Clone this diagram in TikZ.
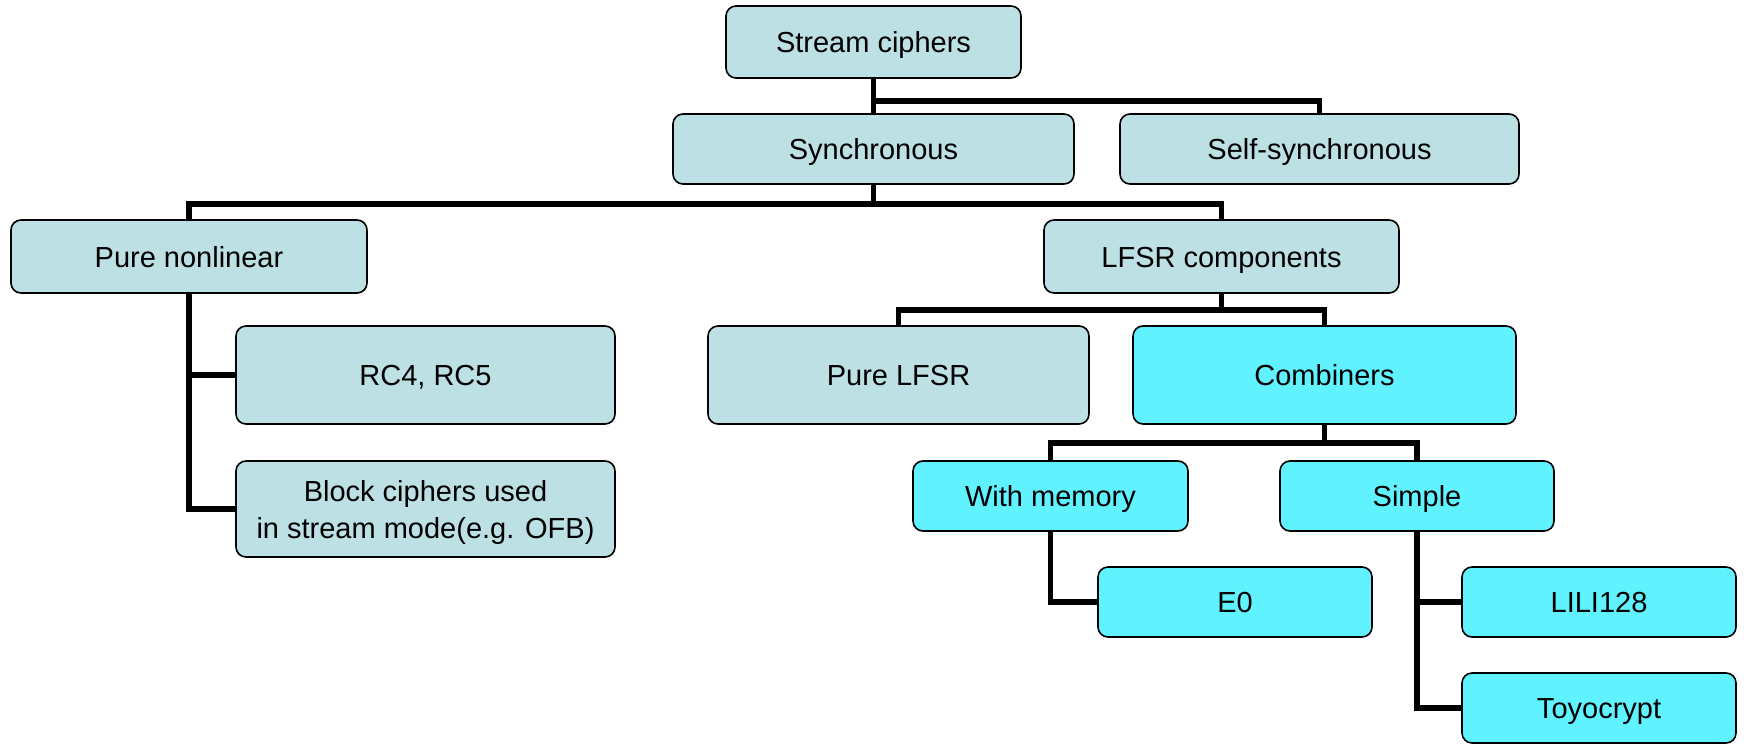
\documentclass[tikz,border=0pt]{standalone}
\usepackage{fontspec}
\setmainfont{Liberation Sans}
\usetikzlibrary{backgrounds,calc}
\definecolor{lteal}{RGB}{188,224,227}
\definecolor{lcyan}{RGB}{96,242,255}
\begin{document}
\begin{tikzpicture}[x=1pt,y=-1pt,
  box/.style={draw=black, line width=1.6pt, rounded corners=10pt, inner sep=0pt,
    align=center, font=\fontsize{29}{37}\selectfont, text=black,
    text height=21pt, text depth=0pt},
  tealbox/.style={box, fill=lteal},
  cyanbox/.style={box, fill=lcyan},
  conn/.style={draw=black, line width=5.5pt}]
\useasboundingbox (0,0) rectangle (1744,744);
% nodes
\node[tealbox, minimum width=295, minimum height=72] (sc) at (873.5,42) {Stream ciphers};
\node[tealbox, minimum width=401, minimum height=70] (sync) at (873.5,149) {Synchronous};
\node[tealbox, minimum width=399, minimum height=70] (self) at (1319.5,149) {Self-synchronous};
\node[tealbox, minimum width=356, minimum height=73] (pn) at (189,256.5) {Pure nonlinear};
\node[tealbox, minimum width=355, minimum height=73] (lfsr) at (1221.5,256.5) {LFSR components};
\node[tealbox, minimum width=379, minimum height=98] (rc) at (425.5,375) {RC4, RC5};
\node[tealbox, minimum width=381, minimum height=98] (plfsr) at (898.5,375) {Pure LFSR};
\node[cyanbox, minimum width=383, minimum height=98] (comb) at (1324.5,375) {Combiners};
\node[tealbox, minimum width=379, minimum height=96, text height=, text depth=0pt] (block) at (425.5,509) {Block ciphers used\\in stream mode(e.g. OFB)};
\node[cyanbox, minimum width=275, minimum height=70] (wm) at (1050.5,496) {With memory};
\node[cyanbox, minimum width=274, minimum height=70] (simple) at (1417,496) {Simple};
\node[cyanbox, minimum width=274, minimum height=70] (e0) at (1235,602) {E0};
\node[cyanbox, minimum width=274, minimum height=70] (lili) at (1599,602) {LILI128};
\node[cyanbox, minimum width=274, minimum height=70] (toy) at (1599,708) {Toyocrypt};
% junction points
\coordinate (j1) at ($(sc.south)+(0,22)$);
\coordinate (j2) at ($(sync.south)+(0,19)$);
\coordinate (j3) at ($(lfsr.south)+(0,16)$);
\coordinate (j4) at ($(comb.south)+(0,18)$);
% connectors
\begin{scope}[on background layer]
\path[conn] (sc.south) -- (sync.north);
\path[conn] (j1) -| (self.north);
\path[conn] (sync.south) -- (j2);
\path[conn] (pn.north) |- (j2) -| (lfsr.north);
\path[conn] (lfsr.south) -- (j3);
\path[conn] (plfsr.north) |- (j3) -| (comb.north);
\path[conn] (comb.south) -- (j4);
\path[conn] (wm.north) |- (j4) -| (simple.north);
\path[conn] (pn.south) |- (block.west);
\path[conn] (pn.south |- rc.west) -- (rc.west);
\path[conn] (wm.south) |- (e0.west);
\path[conn] (simple.south) |- (toy.west);
\path[conn] (simple.south |- lili.west) -- (lili.west);
\end{scope}
\end{tikzpicture}
\end{document}
